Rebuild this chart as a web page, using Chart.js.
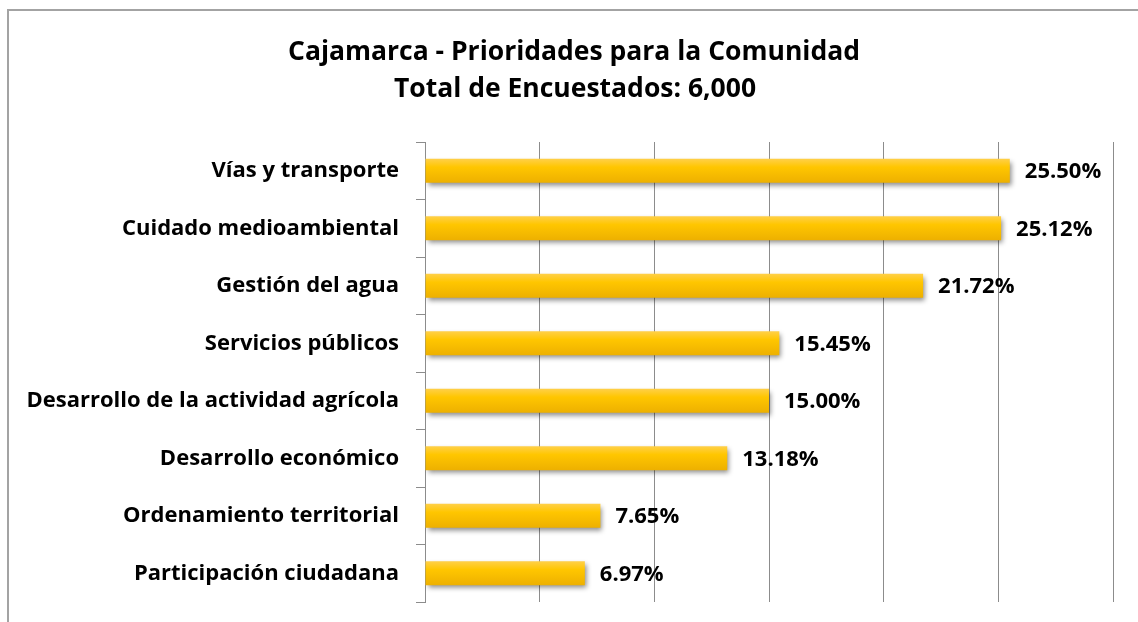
<!DOCTYPE html>
<html>
<head>
<meta charset="utf-8">
<script src="https://cdn.jsdelivr.net/npm/chart.js@4/dist/chart.umd.min.js"></script>
<style>
  html, body { margin: 0; padding: 0; background: #fff; overflow: hidden; }
  #frame {
    position: absolute; left: 7px; top: 9px; width: 1200px; height: 700px;
    border-left: 2px solid #a3a3a3; border-top: 2px solid #a3a3a3;
  }
  #wrap { position: absolute; left: 0; top: 0; width: 1138px; height: 622px; }
</style>
</head>
<body>
<div id="frame"></div>
<div id="wrap"><canvas id="chart"></canvas></div>
<script>
var categories = [
  'Vías y transporte',
  'Cuidado medioambiental',
  'Gestión del agua',
  'Servicios públicos',
  'Desarrollo de la actividad agrícola',
  'Desarrollo económico',
  'Ordenamiento territorial',
  'Participación ciudadana'
];
var percentages = [25.50, 25.12, 21.72, 15.45, 15.00, 13.18, 7.65, 6.97];
var axisTicks = [0, 5, 10, 15, 20, 25, 30];
var titleLines = ['Cajamarca - Prioridades para la Comunidad', 'Total de Encuestados: 6,000'];

var FONT = '"Open Sans", Lato, sans-serif';
var gridColor = '#8c8c8c';

// two-line title, centred over the whole frame rather than the padded box
var chartTitle = {
  id: 'chartTitle',
  afterDraw: function(chart) {
    var ctx = chart.ctx;
    ctx.save();
    ctx.font = 'bold 26.5px ' + FONT;
    ctx.fillStyle = '#000';
    ctx.textAlign = 'center';
    ctx.textBaseline = 'alphabetic';
    ctx.fillText(titleLines[0], 574, 60);
    ctx.fillText(titleLines[1], 575, 97);
    ctx.restore();
  }
};

// bar gradient and drop shadow, done per bar once the layout is known
var barStyle = {
  id: 'barStyle',
  beforeDatasetsDraw: function(chart) {
    var ctx = chart.ctx;
    chart.getDatasetMeta(0).data.forEach(function(bar) {
      var h = bar.height;
      var g = ctx.createLinearGradient(0, bar.y - h / 2, 0, bar.y + h / 2);
      g.addColorStop(0, '#ffd04a');
      g.addColorStop(0.35, '#ffc600');
      g.addColorStop(1, '#edb000');
      // options may be shared between bars, so give each bar its own copy
      bar.options = Object.assign({}, bar.options, { backgroundColor: g });
    });
  },
  beforeDatasetDraw: function(chart) {
    var ctx = chart.ctx;
    ctx.save();
    ctx.shadowColor = 'rgba(0,0,0,0.45)';
    ctx.shadowBlur = 5;
    ctx.shadowOffsetX = 2;
    ctx.shadowOffsetY = 3;
  },
  afterDatasetDraw: function(chart) {
    chart.ctx.restore();
  }
};

// value labels at the end of each bar
var valueLabels = {
  id: 'valueLabels',
  afterDatasetsDraw: function(chart) {
    var ctx = chart.ctx;
    ctx.save();
    ctx.font = 'bold 22px ' + FONT;
    ctx.fillStyle = '#000';
    ctx.textAlign = 'left';
    ctx.textBaseline = 'middle';
    chart.getDatasetMeta(0).data.forEach(function(bar, i) {
      ctx.fillText(percentages[i].toFixed(2) + '%', bar.x + 15, bar.y + 1);
    });
    ctx.restore();
  }
};

new Chart(document.getElementById('chart'), {
  type: 'bar',
  data: {
    labels: categories,
    datasets: [{
      data: percentages,
      backgroundColor: '#ffc600',
      borderWidth: 0,
      barPercentage: 0.42,
      categoryPercentage: 1
    }]
  },
  options: {
    indexAxis: 'y',
    responsive: true,
    maintainAspectRatio: false,
    animation: false,
    layout: { padding: { left: 0, right: 25, top: 142, bottom: 20 } },
    plugins: {
      legend: { display: false },
      tooltip: { enabled: false },
      title: { display: false }
    },
    scales: {
      x: {
        min: 0,
        max: 30,
        afterBuildTicks: function(scale) {
          scale.ticks = axisTicks.map(function(v) { return { value: v }; });
        },
        border: { display: false },
        grid: { color: gridColor, lineWidth: 1, drawTicks: false },
        ticks: { display: false }
      },
      y: {
        afterFit: function(scale) {
          scale.width = 425;
          scale.paddingTop = 0;
          scale.paddingBottom = 0;
        },
        border: { display: true, color: gridColor, width: 1 },
        grid: { display: true, offset: true, drawOnChartArea: false, color: gridColor, tickLength: 9 },
        ticks: {
          color: '#000',
          padding: 17,
          font: { family: FONT, size: 22, weight: 'bold' }
        }
      }
    }
  },
  plugins: [barStyle, valueLabels, chartTitle]
});
</script>
</body>
</html>
